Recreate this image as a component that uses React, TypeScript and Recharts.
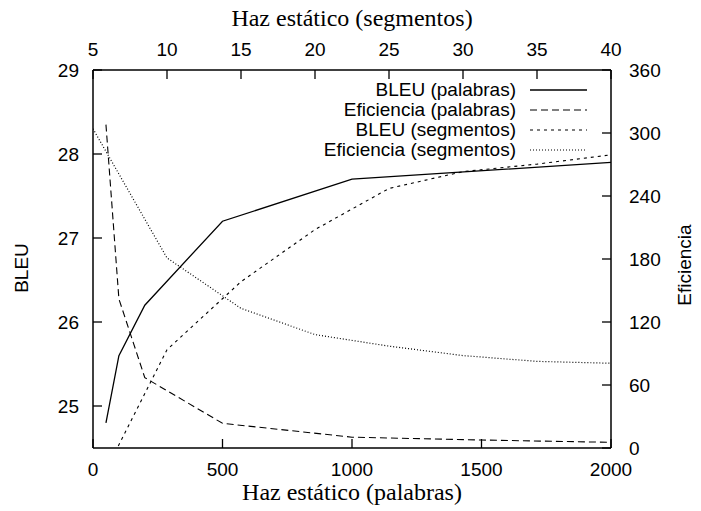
import { LineChart, Line, XAxis, YAxis, Legend, Label } from 'recharts';

// Haz estático (palabras) — bottom axis
const palabrasTicks = [0, 500, 1000, 1500, 2000];
const bleuPalabrasX = [50, 100, 200, 500, 1000, 2000];
const bleuPalabras = [24.8, 25.6, 26.2, 27.2, 27.7, 27.9];
const efPalabrasX = [50, 100, 200, 500, 1000, 1500, 2000];
const efPalabras = [308, 142, 67, 23.5, 10.3, 7.6, 5.4];

// Haz estático (segmentos) — top axis
const segmentosTicks = [5, 10, 15, 20, 25, 30, 35, 40];
const segmentosX = [5, 10, 15, 20, 25, 30, 35, 40];
const bleuSegmentos = [23.93, 25.67, 26.48, 27.1, 27.59, 27.79, 27.88, 27.99];
const efSegmentos = [304, 181, 133, 108, 97, 88, 82.5, 80.7];

const bleuTicks = [25, 26, 27, 28, 29];
const efTicks = [0, 60, 120, 180, 240, 300, 360];

const zip = (xs: number[], ys: number[]) => xs.map((x, i) => ({ x, y: ys[i] }));

const series = [
  { name: 'BLEU (palabras)', data: zip(bleuPalabrasX, bleuPalabras), xAxis: 'bottom', yAxis: 'left', dash: undefined, width: 1.3 },
  { name: 'Eficiencia (palabras)', data: zip(efPalabrasX, efPalabras), xAxis: 'bottom', yAxis: 'right', dash: '7 4', width: 1.1 },
  { name: 'BLEU (segmentos)', data: zip(segmentosX, bleuSegmentos), xAxis: 'top', yAxis: 'left', dash: '3 4', width: 1.1 },
  { name: 'Eficiencia (segmentos)', data: zip(segmentosX, efSegmentos), xAxis: 'top', yAxis: 'right', dash: '1 2', width: 1.2 },
];

const sans = '"Liberation Sans", Arial, sans-serif';
const serif = '"Liberation Serif", "Times New Roman", serif';
const tickStyle = { fontSize: 19, fill: '#000', fontFamily: sans };
const axisLine = { stroke: '#000', strokeWidth: 1.5 };
const tickLine = { stroke: '#000', strokeWidth: 1.3 };

function LegendBox() {
  return (
    <div style={{ fontFamily: sans, fontSize: 19, color: '#000' }}>
      {series.map((s) => (
        <div
          key={s.name}
          style={{ display: 'flex', justifyContent: 'flex-end', alignItems: 'center', height: 20, lineHeight: '20px' }}
        >
          <span style={{ whiteSpace: 'nowrap' }}>{s.name}</span>
          <svg width={57} height={20} style={{ marginLeft: 14 }}>
            <line x1={0} x2={57} y1={10} y2={10} stroke="#000" strokeWidth={s.width} strokeDasharray={s.dash} />
          </svg>
        </div>
      ))}
    </div>
  );
}

export default function App() {
  return (
    <div style={{ position: 'absolute', left: 0, top: 0, background: '#fff' }}>
      <LineChart width={701} height={511} margin={{ top: 0, right: 0, bottom: 0, left: 0 }}>
        <XAxis
          xAxisId="bottom"
          orientation="bottom"
          type="number"
          dataKey="x"
          domain={[0, 2000]}
          ticks={palabrasTicks}
          height={63}
          tickSize={-9}
          tickMargin={24}
          tick={tickStyle}
          axisLine={axisLine}
          tickLine={tickLine}
          allowDataOverflow
        >
          <Label
            value="Haz estático (palabras)"
            position="insideBottom"
            offset={11}
            style={{ fontSize: 24, fontFamily: serif, fill: '#000' }}
          />
        </XAxis>
        <XAxis
          xAxisId="top"
          orientation="top"
          type="number"
          dataKey="x"
          domain={[5, 40]}
          ticks={segmentosTicks}
          height={70}
          tickSize={-9}
          tickMargin={23}
          tick={tickStyle}
          axisLine={axisLine}
          tickLine={tickLine}
          allowDataOverflow
        >
          <Label
            value="Haz estático (segmentos)"
            position="insideTop"
            offset={9}
            style={{ fontSize: 24, fontFamily: serif, fill: '#000' }}
          />
        </XAxis>
        <YAxis
          yAxisId="left"
          orientation="left"
          type="number"
          domain={[24.5, 29]}
          ticks={bleuTicks}
          width={93}
          tickSize={-9}
          tickMargin={23}
          tick={tickStyle}
          axisLine={axisLine}
          tickLine={tickLine}
          allowDataOverflow
        >
          <Label
            value="BLEU"
            angle={-90}
            position="center"
            dx={-25}
            dy={9}
            style={{ fontSize: 19, fontFamily: sans, fill: '#000', textAnchor: 'middle' }}
          />
        </YAxis>
        <YAxis
          yAxisId="right"
          orientation="right"
          type="number"
          domain={[0, 360]}
          ticks={efTicks}
          width={90}
          tickSize={-9}
          tickMargin={27}
          tick={tickStyle}
          axisLine={axisLine}
          tickLine={tickLine}
          allowDataOverflow
        >
          <Label
            value="Eficiencia"
            angle={-90}
            position="center"
            dx={28}
            dy={6}
            style={{ fontSize: 19, fontFamily: sans, fill: '#000', textAnchor: 'middle' }}
          />
        </YAxis>
        <Legend
          layout="vertical"
          align="center"
          verticalAlign="middle"
          content={() => <LegendBox />}
          wrapperStyle={{ left: 297, top: 80, width: 290, height: 80, right: 'auto', bottom: 'auto' }}
        />
        {series.map((s) => (
          <Line
            key={s.name}
            name={s.name}
            data={s.data}
            dataKey="y"
            xAxisId={s.xAxis}
            yAxisId={s.yAxis}
            type="linear"
            stroke="#000"
            strokeWidth={s.width}
            strokeDasharray={s.dash}
            dot={false}
            activeDot={false}
            isAnimationActive={false}
          />
        ))}
      </LineChart>
    </div>
  );
}
